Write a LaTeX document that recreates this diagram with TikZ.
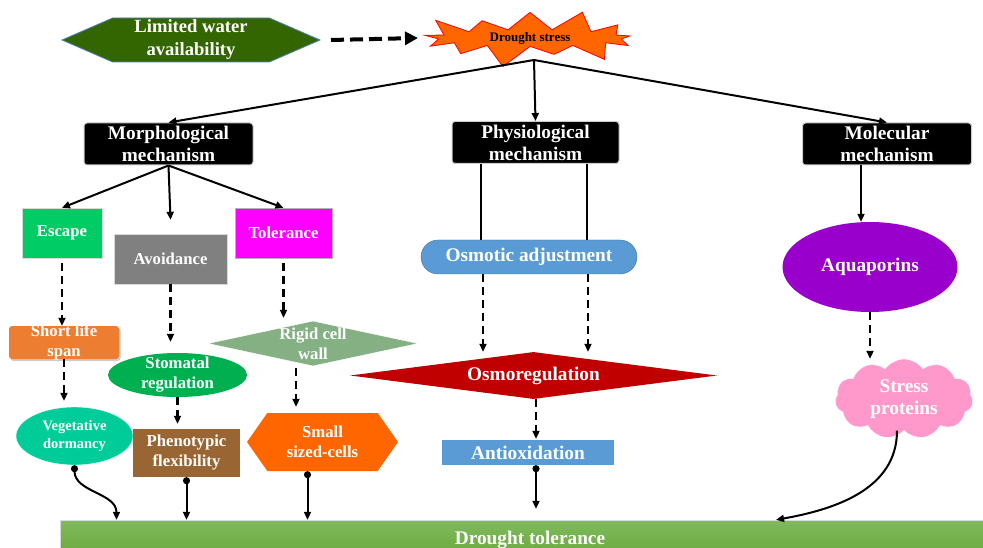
\documentclass[tikz,border=0pt]{standalone}
\usepackage{fontspec}
\setmainfont{Liberation Serif}
\usepackage{tikz}
\usetikzlibrary{arrows.meta}
\usetikzlibrary{shapes.geometric}
\usetikzlibrary{shapes.symbols}
\usetikzlibrary{shapes.misc}
\usetikzlibrary{shadows}
\definecolor{limgreen}{HTML}{336600}
\definecolor{limedge}{HTML}{4F81BD}
\definecolor{starfill}{HTML}{FF6600}
\definecolor{escgreen}{HTML}{00CC66}
\definecolor{avoidgray}{HTML}{808080}
\definecolor{tolmagenta}{HTML}{FF00FF}
\definecolor{shortorange}{HTML}{ED7D31}
\definecolor{vegteal}{HTML}{00CC99}
\definecolor{stomgreen}{HTML}{00B050}
\definecolor{phenobrown}{HTML}{996633}
\definecolor{rigidgreen}{HTML}{84B084}
\definecolor{osmblue}{HTML}{5B9BD5}
\definecolor{osmedge}{HTML}{41719C}
\definecolor{osmred}{HTML}{C00000}
\definecolor{aquapurple}{HTML}{9900CC}
\definecolor{stresspink}{HTML}{FF99CC}
\definecolor{barlight}{HTML}{80BA5C}
\definecolor{bardark}{HTML}{68A73C}
\tikzset{
  txt/.style={text=white, align=center, inner sep=0pt,
    font=\bfseries\fontsize{16.7}{20}\selectfont},
  big/.style={font=\bfseries\fontsize{19.3}{22}\selectfont},
  mech/.style={txt, big, rectangle, rounded corners=3pt, fill=black,
    draw=gray!40, line width=1pt, minimum width=169pt, minimum height=42pt},
  hexa/.style={shape=signal, signal to=west and east, signal pointer angle=#1},
  tag/.style={label={[txt]center:#1}},
  bigtag/.style={label={[txt,big]center:#1}},
  arr/.style={line width=2pt, -{Triangle[length=8pt,width=7pt]}},
  darr/.style={arr, line width=2.2pt, dash pattern=on 8pt off 5pt},
  dotarr/.style={line width=2pt, {Circle[length=7pt]}-{Triangle[length=8pt,width=7pt]}}
}
\begin{document}
\begin{tikzpicture}[x=1pt, y=-1pt]
  \useasboundingbox (0,0) rectangle (983,548);

  % Top row
  \node[hexa=47, txt, font=\bfseries\fontsize{18.6}{23}\selectfont, fill=limgreen,
    draw=limedge, line width=0.8pt, minimum width=258pt, minimum height=44pt] (lim) at (191,40) {Limited water\\availability};
  \node[starburst, starburst points=13, starburst point height=24pt, fill=starfill, draw=red,
    line width=0.8pt, minimum width=232pt, minimum height=58pt, inner sep=0pt,
    font=\bfseries\fontsize{13}{15}\selectfont] (star) at (530,38) {Drought stress};
  \coordinate (hub) at (534,60);
  \draw[line width=4pt, dash pattern=on 13pt off 6pt, -{Triangle[length=13pt,width=13pt]}]
    ([xshift=10pt]lim.east) -- ([xshift=-112pt]star.center);

  % Mechanisms
  \node[mech] (morph) at (168.5,144) {Morphological\\mechanism};
  \node[mech, minimum width=167pt] (phys) at (535.5,142.5) {Physiological\\mechanism};
  \node[mech] (mol) at (887,144) {Molecular\\mechanism};

  \draw[arr] (hub) -- (morph.north);
  \draw[arr] (hub) -- (phys.north);
  \draw[arr] (hub) -- (mol.north);

  % Morphological branch
  \node[txt, fill=escgreen, draw=gray!30, minimum width=80pt, minimum height=50pt] (esc) at (62,233) {Escape};
  \node[txt, fill=avoidgray, draw=gray!30, minimum width=113pt, minimum height=50pt] (avoid) at (170.5,259) {Avoidance};
  \node[txt, fill=tolmagenta, draw=gray!60, minimum width=97pt, minimum height=50pt] (tol) at (283.5,233) {Tolerance};

  \node[rounded corners=3pt, fill=shortorange, minimum width=110pt, minimum height=33pt,
    drop shadow={shadow xshift=1.5pt, shadow yshift=-2pt, opacity=0.4},
    tag={Short life\\span}] (short) at (64,342.5) {};
  \node[ellipse, fill=vegteal, draw=white, minimum width=117pt, minimum height=58pt, txt,
    font=\bfseries\fontsize{14.5}{18}\selectfont] (veg) at (74.5,436) {Vegetative\\dormancy};
  \node[ellipse, fill=stomgreen, minimum width=139pt, minimum height=44pt, inner sep=0pt,
    tag={Stomatal\\regulation}] (stom) at (177.5,375) {};
  \node[txt, fill=phenobrown, minimum width=107pt, minimum height=48pt] (pheno) at (186.5,453) {Phenotypic\\flexibility};
  \node[diamond, fill=rigidgreen, draw=white, aspect=4.7, minimum width=210pt, minimum height=45pt,
    inner sep=0pt, tag={Rigid cell\\wall}] (rigid) at (313,343.5) {};
  \node[hexa=110, txt, fill=starfill, minimum width=151pt, minimum height=58pt] (small) at (322.5,442) {Small\\sized-cells};

  \draw[arr] (morph.south) -- (esc.north);
  \draw[arr] (morph.south) -- ([yshift=14pt]avoid.north);
  \draw[arr] (morph.south) -- (tol.north);
  \draw[darr, shorten <=5pt] (esc.south) -- (esc.south |- short.north);
  \draw[darr, shorten >=6pt] (short.south) -- (short.south |- veg.north);
  \draw[darr, shorten >=11pt] (avoid.south) -- (avoid.south |- stom.north);
  \draw[darr, shorten >=5pt] (stom.south) -- (stom.south |- pheno.north);
  \draw[darr, shorten <=5pt, shorten >=3pt] (tol.south) -- (tol.south |- rigid.north);
  \draw[darr, shorten <=2pt, shorten >=6pt] ([xshift=-17pt]rigid.south) -- ([xshift=-17pt]rigid.south |- small.north);

  % Physiological branch
  \node[txt, big, rounded rectangle, fill=osmblue, draw=osmedge, minimum width=216pt, minimum height=34pt] (osm) at (529,257) {Osmotic adjustment};
  \node[diamond, fill=osmred, aspect=7.8, minimum width=367pt, minimum height=47pt, txt, big] (osmreg) at (533.5,375.5) {Osmoregulation};
  \node[txt, big, fill=osmblue, minimum width=172pt, minimum height=25pt] (antiox) at (528,452.5) {Antioxidation};

  \draw[line width=2pt] ([xshift=-55pt]phys.south) -- ([xshift=-55pt]phys.south |- osm.north);
  \draw[line width=2pt] ([xshift=51.5pt]phys.south) -- ([xshift=51.5pt]phys.south |- osm.north);
  \draw[darr] ([xshift=-46pt]osm.south) -- ([xshift=-46pt]osm.south |- osmreg.north);
  \draw[darr] ([xshift=59pt]osm.south) -- ([xshift=59pt]osm.south |- osmreg.north);
  \draw[darr, shorten >=1pt] ([xshift=2.5pt]osmreg.south) -- ([xshift=2.5pt]osmreg.south |- antiox.north);

  % Molecular branch
  \node[txt, big, ellipse, fill=aquapurple, minimum width=175pt, minimum height=90pt] (aqua) at (870,267) {Aquaporins};
  \node[cloud, cloud puffs=11, cloud puff arc=110, fill=stresspink, draw=white, minimum width=138pt,
    minimum height=80pt, inner sep=0pt, bigtag={Stress\\proteins}] (stress) at (904,399) {};

  \draw[arr] ([xshift=-26pt]mol.south) -- ([xshift=-26pt]mol.south |- aqua.north);
  \draw[darr] (aqua.south) -- (aqua.south |- stress.north);

  % Drought tolerance
  \node[txt, big, rectangle, top color=barlight, bottom color=bardark, draw=gray!30,
    minimum width=940pt, minimum height=40pt] (bar) at (530,540) {Drought tolerance};

  \draw[dotarr] (veg.south) to[out=-90, in=90] ([xshift=42pt]veg.south |- bar.north);
  \draw[dotarr] (pheno.south) -- (pheno.south |- bar.north);
  \draw[dotarr] ([xshift=-15pt]small.south) -- ([xshift=-15pt]small.south |- bar.north);
  \draw[dotarr, shorten >=11pt] ([xshift=8pt]antiox.south) -- ([xshift=8pt]antiox.south |- bar.north);
  \draw[arr] ([xshift=-7pt]stress.south) to[out=-90, in=10] ([xshift=-128pt]stress.south |- bar.north);
\end{tikzpicture}
\end{document}
